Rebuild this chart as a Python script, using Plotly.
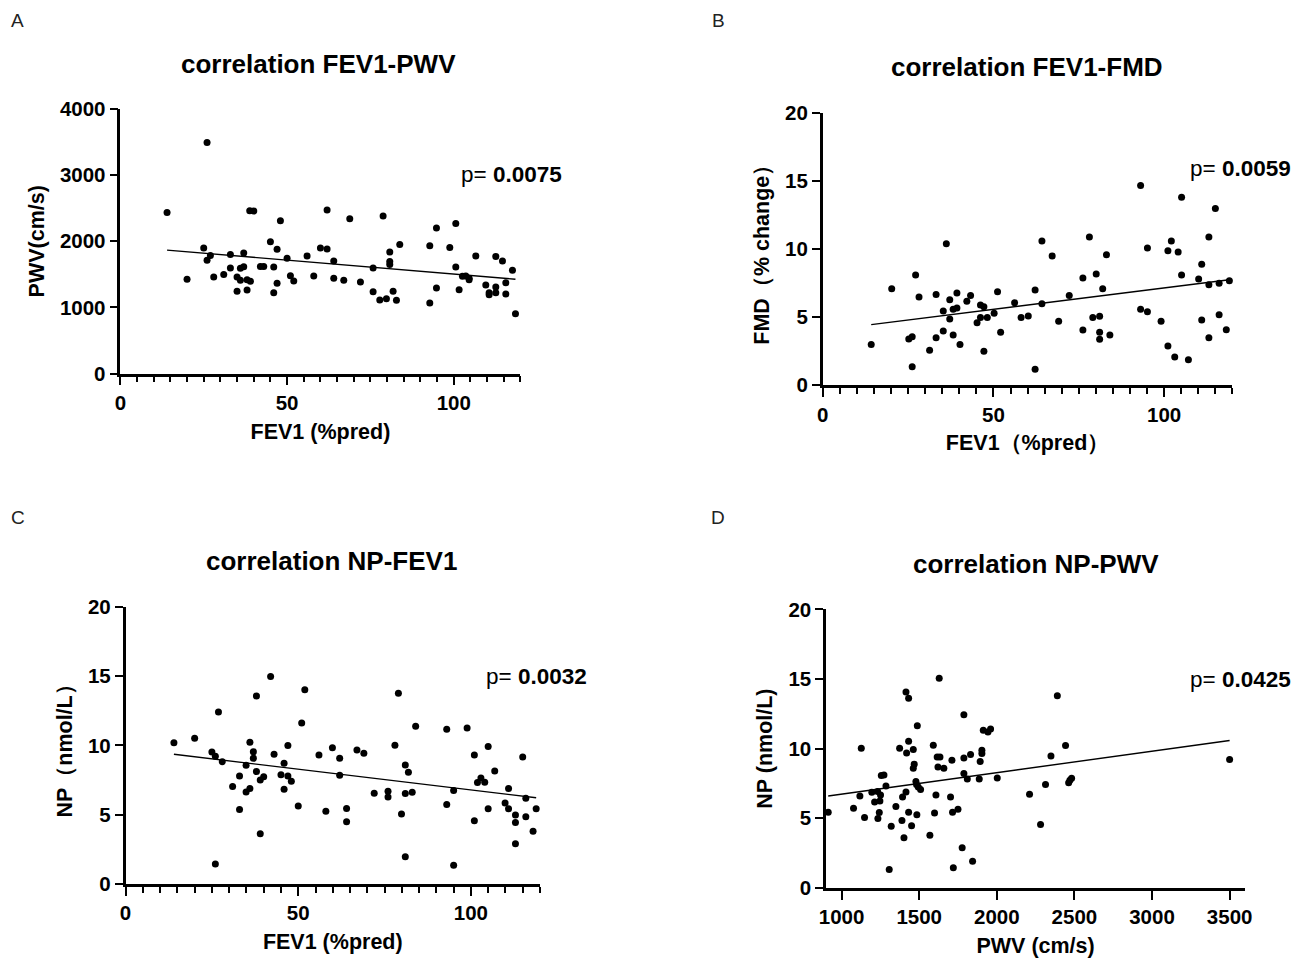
import numpy as np
import plotly.graph_objects as go

# ---------------- data ----------------
# Panel A: FEV1 (%pred) vs PWV (cm/s)
a_fev1 = [14.0, 26.0, 20.0, 25.0, 26.0, 27.0, 28.0, 31.0, 33.0, 33.0, 35.0, 35.0, 36.0, 36.0,
          37.0, 37.0, 38.0, 38.0, 39.0, 38.8, 40.0, 42.0, 43.0, 45.0, 46.0, 46.0, 47.0, 47.0,
          48.0, 50.0, 51.0, 52.0, 56.0, 58.0, 60.0, 62.0, 62.0, 64.0, 64.0, 67.0, 68.8, 72.0,
          75.8, 75.8, 77.8, 78.8, 79.8, 80.8, 80.8, 80.8, 81.8, 82.8, 83.8, 92.8, 92.8, 94.8,
          94.8, 98.8, 100.6, 100.6, 101.6, 102.6, 103.6, 104.6, 104.6, 106.6, 109.6, 110.6,
          110.6, 112.6, 112.6, 112.6, 114.6, 115.6, 115.6, 117.6, 118.5]
a_pwv = [2435, 3491, 1424, 1897, 1711, 1786, 1460, 1499, 1801, 1595, 1460, 1243, 1590, 1409,
         1822, 1615, 1419, 1263, 1394, 2460, 2455, 1620, 1620, 1992, 1610, 1223, 1877, 1364,
         2310, 1741, 1479, 1399, 1776, 1474, 1897, 1882, 2470, 1701, 1439, 1409, 2340, 1384,
         1595, 1238, 1112, 2380, 1132, 1837, 1695, 1650, 1243, 1107, 1952, 1932, 1067, 2199,
         1293, 1907, 2269, 1610, 1268, 1469, 1474, 1439, 1419, 1776, 1339, 1223, 1192, 1771,
         1309, 1223, 1701, 1374, 1203, 1560, 906]
a_p = "0.0075"

# Panel B: FEV1 (%pred) vs FMD (% change)
b_fev1 = [14.2, 20.2, 25.2, 26.2, 26.2, 27.2, 28.2, 31.3, 33.2, 33.2, 35.3, 35.3, 36.2, 37.2,
          37.2, 38.2, 38.2, 39.3, 39.3, 40.2, 42.2, 43.3, 45.2, 46.2, 46.2, 47.2, 47.2, 48.2,
          50.2, 51.2, 52.1, 56.2, 58.1, 60.2, 62.2, 62.2, 64.2, 64.2, 67.2, 69.1, 72.2, 76.2,
          76.2, 78.1, 79.1, 80.1, 81.1, 81.1, 81.1, 82.0, 83.1, 84.1, 93.1, 93.1, 95.1, 95.1,
          99.1, 101.1, 101.1, 102.1, 103.1, 104.1, 105.1, 105.1, 107.1, 110.1, 111.0, 111.0,
          113.1, 113.1, 113.1, 115.0, 116.1, 116.1, 118.2, 119.1]
b_fmd = [2.99, 7.10, 3.40, 3.57, 1.37, 8.10, 6.49, 2.57, 6.68, 3.50, 5.46, 3.99, 10.40, 6.29,
         4.87, 5.58, 3.70, 5.68, 6.78, 2.99, 6.17, 6.59, 4.60, 5.90, 4.99, 5.78, 2.50, 4.99,
         5.29, 6.88, 3.89, 6.07, 4.99, 5.09, 7.00, 1.18, 10.60, 6.00, 9.50, 4.70, 6.59, 7.88,
         4.06, 10.89, 4.99, 8.18, 5.07, 3.89, 3.38, 7.10, 9.60, 3.70, 14.69, 5.58, 10.09, 5.41,
         4.70, 9.89, 2.89, 10.60, 2.08, 9.79, 13.81, 8.10, 1.88, 7.81, 8.89, 4.80, 10.89, 7.39,
         3.50, 13.00, 7.49, 5.19, 4.09, 7.69]
b_p = "0.0059"

# Panel C: FEV1 (%pred) vs NP (nmol/L)
c_fev1 = [14.0, 20.0, 25.0, 26.0, 26.0, 26.9, 28.0, 31.0, 33.0, 33.0, 34.9, 34.9, 36.0, 36.0,
          37.0, 37.0, 37.9, 37.9, 39.0, 39.0, 40.0, 42.0, 43.0, 45.0, 45.9, 45.9, 47.0, 47.0,
          48.0, 50.0, 51.0, 51.9, 56.0, 58.0, 59.9, 62.0, 62.0, 64.0, 64.0, 67.0, 69.0, 72.0,
          76.0, 76.0, 78.0, 79.0, 79.9, 81.0, 81.0, 81.0, 81.9, 83.0, 84.0, 93.0, 93.0, 95.0,
          95.0, 98.9, 101.0, 101.0, 101.9, 102.9, 104.0, 105.0, 105.0, 106.9, 109.9, 110.9,
          110.9, 112.9, 112.9, 112.9, 115.0, 115.9, 115.9, 118.0, 118.9]
c_np = [10.20, 10.52, 9.53, 9.22, 1.44, 12.42, 8.83, 7.03, 7.80, 5.37, 8.57, 6.64, 10.23, 6.88,
        9.55, 9.07, 13.57, 8.11, 7.51, 3.61, 7.73, 14.99, 9.36, 7.89, 8.71, 6.84, 9.99, 7.80,
        7.41, 5.63, 11.62, 14.03, 9.31, 5.25, 9.84, 9.07, 7.85, 5.44, 4.48, 9.68, 9.43, 6.55,
        6.69, 6.28, 10.01, 13.77, 5.05, 8.59, 6.52, 1.95, 8.06, 6.62, 11.38, 11.17, 5.73, 6.74,
        1.35, 11.26, 9.31, 4.55, 7.32, 7.65, 7.34, 9.92, 5.42, 8.16, 5.85, 6.88, 5.42, 4.98,
        4.43, 2.89, 9.17, 6.19, 4.84, 3.80, 5.42]
c_p = "0.0032"

# Panel D: PWV (cm/s) vs NP (nmol/L)
d_pwv = [914, 1077, 1118, 1127, 1148, 1195, 1213, 1232, 1234, 1243, 1247, 1251, 1256, 1273,
         1286, 1307, 1320, 1350, 1374, 1389, 1393, 1402, 1415, 1415, 1419, 1432, 1432, 1432,
         1451, 1462, 1462, 1468, 1479, 1483, 1485, 1488, 1494, 1509, 1569, 1591, 1599, 1608,
         1616, 1621, 1629, 1634, 1659, 1702, 1711, 1715, 1720, 1750, 1777, 1788, 1788, 1788,
         1810, 1831, 1844, 1887, 1893, 1904, 1904, 1913, 1943, 1960, 2003, 2211, 2282, 2314,
         2349, 2390, 2443, 2463, 2471, 2482, 3500]
d_np = [5.43, 5.72, 6.60, 10.02, 5.05, 6.87, 6.17, 6.91, 4.98, 5.41, 6.24, 6.67, 8.06, 8.11,
        7.32, 1.32, 4.43, 5.84, 10.02, 4.83, 6.53, 3.59, 14.07, 6.89, 9.69, 13.61, 10.53, 5.43,
        4.45, 9.93, 8.59, 8.88, 7.63, 7.42, 5.24, 11.65, 7.25, 7.06, 3.78, 10.24, 5.38, 6.67,
        9.40, 8.68, 15.05, 9.40, 8.59, 6.53, 9.16, 5.43, 1.44, 5.65, 2.87, 12.44, 9.33, 8.21,
        7.82, 9.57, 1.91, 7.82, 9.07, 9.64, 9.88, 11.32, 11.20, 11.41, 7.89, 6.72, 4.55, 7.42,
        9.47, 13.80, 10.22, 7.54, 7.73, 7.87, 9.21]
d_p = "0.0425"

titles = ["correlation FEV1-PWV", "correlation FEV1-FMD", "correlation NP-FEV1", "correlation NP-PWV"]
letters = ["A", "B", "C", "D"]
x_titles = ["FEV1 (%pred)", "FEV1（%pred）", "FEV1 (%pred)", "PWV (cm/s)"]
y_titles = ["PWV(cm/s)", "FMD（% change）", "NP（nmol/L）", "NP (nmol/L)"]

# ---------------- layout geometry ----------------
W, H = 1301, 962
FONT = "Liberation Sans, Arial, Helvetica, sans-serif"
# the photographed page comes out slightly shrunk about its centre;
# target positions (picture pixels) are mapped back to page pixels
SX, SY = 0.989, 0.977
CX, CY = W / 2, H / 2


def fx(px):
    return (CX + (px - CX) / SX) / W


def fy(py):
    return 1 - (CY + (py - CY) / SY) / H


# (x_left, x_right, y_top, y_bottom) of each plotting area, picture pixels
boxes = [(120.5, 520.5, 108, 373),
         (822.7, 1232.3, 112.3, 384.7),
         (125.7, 540.0, 606.7, 883.7),
         (826.0, 1245.0, 609.0, 887.7)]
x_ranges = [[0, 120], [0, 120], [0, 120], [900, 3600]]
y_ranges = [[0, 4000], [0, 20], [0, 20], [0, 20]]
x_dticks = [50, 50, 50, 500]
x_tick0 = [0, 0, 0, 1000]
y_dticks = [1000, 5, 5, 5]
minor_x = [True, True, True, False]
title_pos = [(319, 63), (1027, 66), (332, 561), (1036, 564)]
letter_pos = [(18, 20), (718, 20), (18, 517), (718, 517)]
p_pos = [(101.7, 3004), (107.0, 15.9), (103.9, 15.0), (3232, 14.96)]
p_vals = [a_p, b_p, c_p, d_p]

xs = [a_fev1, b_fev1, c_fev1, d_pwv]
ys = [a_pwv, b_fmd, c_np, d_np]

fig = go.Figure()
annotations = []
layout = dict(
    width=W, height=H, margin=dict(l=0, r=0, t=0, b=0),
    paper_bgcolor="white", plot_bgcolor="white", showlegend=False,
    font=dict(family=FONT, color="black"),
)

for i in range(4):
    sfx = "" if i == 0 else str(i + 1)
    xa, ya = "x" + sfx, "y" + sfx
    x0, x1, yt, yb = boxes[i]
    x = np.array(xs[i], dtype=float)
    y = np.array(ys[i], dtype=float)

    fig.add_trace(go.Scatter(x=x, y=y, mode="markers", xaxis=xa, yaxis=ya,
                             marker=dict(color="black", size=7), cliponaxis=False))
    # least-squares regression line drawn over the data span
    slope, intercept = np.polyfit(x, y, 1)
    lx = np.array([x.min(), x.max()])
    fig.add_trace(go.Scatter(x=lx, y=slope * lx + intercept, mode="lines",
                             xaxis=xa, yaxis=ya, line=dict(color="black", width=1.4)))

    xaxis = dict(
        domain=[fx(x0), fx(x1)], anchor=ya, range=x_ranges[i],
        showline=True, linecolor="black", linewidth=2.5, mirror=False,
        showgrid=False, zeroline=False,
        ticks="outside", ticklen=9, tickwidth=2.2, tickcolor="black",
        tick0=x_tick0[i], dtick=x_dticks[i],
        tickfont=dict(family=FONT, size=20.5, color="black", weight="bold"),
        title=dict(text=x_titles[i], font=dict(family=FONT, size=21.5, color="black", weight="bold"),
                   standoff=11),
        fixedrange=True,
    )
    if minor_x[i]:
        xaxis["minor"] = dict(ticks="outside", ticklen=6, tickwidth=2, tickcolor="black",
                              dtick=5, showgrid=False)
    yaxis = dict(
        domain=[fy(yb), fy(yt)], anchor=xa, range=y_ranges[i],
        showline=True, linecolor="black", linewidth=2.5,
        showgrid=False, zeroline=False,
        ticks="outside", ticklen=8, tickwidth=2.2, tickcolor="black",
        dtick=y_dticks[i],
        tickfont=dict(family=FONT, size=20.5, color="black", weight="bold"),
        title=dict(text=y_titles[i], font=dict(family=FONT, size=21.5, color="black", weight="bold"),
                   standoff=10),
        fixedrange=True,
    )
    layout["xaxis" + sfx] = xaxis
    layout["yaxis" + sfx] = yaxis

    tx, ty = title_pos[i]
    annotations.append(dict(text="<b>" + titles[i] + "</b>", x=fx(tx), y=fy(ty),
                            xref="paper", yref="paper", showarrow=False,
                            xanchor="center", yanchor="middle",
                            font=dict(family=FONT, size=26, color="black")))
    lx_, ly_ = letter_pos[i]
    annotations.append(dict(text=letters[i], x=fx(lx_), y=fy(ly_),
                            xref="paper", yref="paper", showarrow=False,
                            xanchor="center", yanchor="middle",
                            font=dict(family=FONT, size=19, color="#222")))
    px, py = p_pos[i]
    annotations.append(dict(text="p= <b>" + p_vals[i] + "</b>", x=px, y=py,
                            xref=xa, yref=ya, showarrow=False,
                            xanchor="left", yanchor="middle",
                            font=dict(family=FONT, size=22.5, color="black")))

layout["annotations"] = annotations
fig.update_layout(**layout)

fig.write_html(
    "out.html",
    config={"displayModeBar": False},
    post_script="document.body.style.margin='0px';"
                "document.documentElement.style.overflow='hidden';",
)
